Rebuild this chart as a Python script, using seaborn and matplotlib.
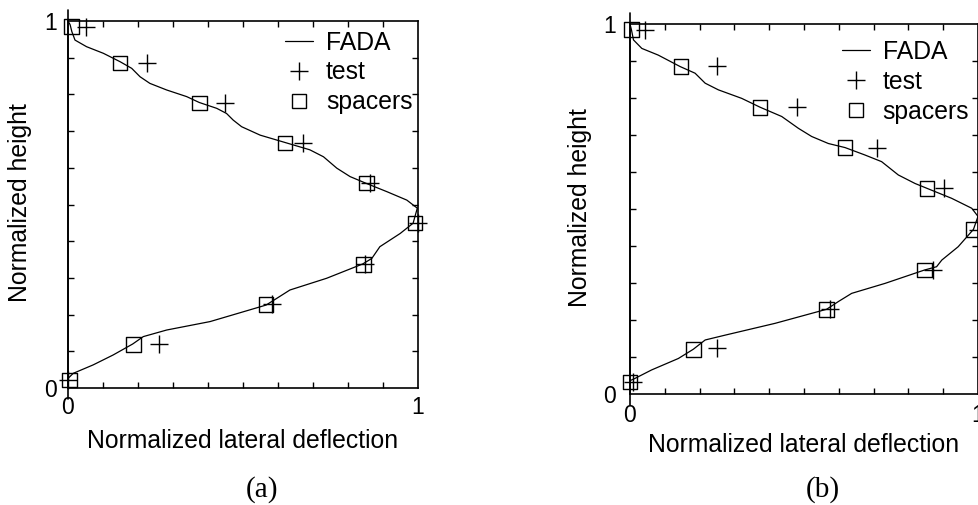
import numpy as np
import pandas as pd
import matplotlib
matplotlib.use("Agg")
import matplotlib.pyplot as plt
import seaborn as sns
from matplotlib.lines import Line2D
from matplotlib.legend_handler import HandlerLine2D

# ---------------- data ----------------
# Panel (a)
fada_a_x = [0.0, 0.006, 0.011, 0.02, 0.053, 0.101, 0.149, 0.182, 0.206, 0.234, 0.282, 0.339,
            0.375, 0.425, 0.453, 0.472, 0.496, 0.549, 0.62, 0.691, 0.730, 0.768, 0.806, 0.851,
            0.911, 0.968, 0.998, 0.986, 0.949, 0.891, 0.868, 0.842, 0.739, 0.634, 0.596,
            0.566, 0.406, 0.282, 0.215, 0.185, 0.129, 0.072, 0.015, 0.0]
fada_a_y = [1.0, 0.99, 0.971, 0.948, 0.930, 0.912, 0.889, 0.871, 0.848, 0.830, 0.812, 0.794,
            0.778, 0.762, 0.748, 0.730, 0.712, 0.689, 0.669, 0.649, 0.630, 0.599, 0.576, 0.558,
            0.535, 0.512, 0.490, 0.449, 0.421, 0.385, 0.353, 0.338, 0.299, 0.267, 0.244,
            0.226, 0.181, 0.158, 0.140, 0.120, 0.090, 0.063, 0.040, 0.026]
test_a_x = [0.051, 0.225, 0.449, 0.672, 0.863, 1.0, 0.849, 0.582, 0.261, 0.0]
test_a_y = [0.985, 0.886, 0.777, 0.668, 0.559, 0.449, 0.337, 0.228, 0.119, 0.022]
spacer_a_x = [0.01, 0.149, 0.375, 0.62, 0.853, 0.991, 0.844, 0.566, 0.187, 0.004]
spacer_a_y = [0.985, 0.886, 0.777, 0.668, 0.559, 0.450, 0.337, 0.228, 0.119, 0.022]

# Panel (b)
fada_b_x = [0.0, 0.004, 0.01, 0.034, 0.081, 0.144, 0.187, 0.216, 0.254, 0.321, 0.374, 0.436,
            0.484, 0.522, 0.570, 0.618, 0.675, 0.723, 0.771, 0.819, 0.853, 0.924, 0.982,
            1.0, 0.987, 0.943, 0.896, 0.881, 0.846, 0.733, 0.637, 0.599, 0.565, 0.417,
            0.273, 0.216, 0.182, 0.139, 0.062, 0.014, 0.0]
fada_b_y = [1.0, 0.985, 0.957, 0.934, 0.916, 0.885, 0.867, 0.840, 0.822, 0.799, 0.775, 0.750,
            0.718, 0.696, 0.677, 0.666, 0.646, 0.628, 0.592, 0.569, 0.556, 0.529, 0.502,
            0.480, 0.445, 0.398, 0.362, 0.344, 0.335, 0.299, 0.272, 0.250, 0.229, 0.191,
            0.159, 0.146, 0.121, 0.096, 0.065, 0.042, 0.036]
test_b_x = [0.043, 0.249, 0.479, 0.709, 0.901, 1.0, 0.872, 0.575, 0.249, 0.01]
test_b_y = [0.985, 0.886, 0.776, 0.665, 0.557, 0.444, 0.336, 0.230, 0.124, 0.032]
spacer_b_x = [0.005, 0.146, 0.374, 0.618, 0.853, 0.987, 0.846, 0.565, 0.182, 0.0]
spacer_b_y = [0.985, 0.885, 0.775, 0.666, 0.556, 0.445, 0.335, 0.229, 0.121, 0.032]

panel_labels = ["(a)", "(b)"]
xlabel = "Normalized lateral deflection"
ylabel = "Normalized height"
legend_labels = ["FADA", "test", "spacers"]

# ---------------- style ----------------
sns.set_style("white")
plt.rcParams["font.family"] = ["Liberation Sans", "DejaVu Sans"]
plt.rcParams["text.color"] = "black"
plt.rcParams["axes.labelcolor"] = "black"
plt.rcParams["xtick.color"] = "black"
plt.rcParams["ytick.color"] = "black"

fig = plt.figure(figsize=(9.79, 5.05), dpi=100)

axes_pos = [
    [68 / 979, (505 - 388) / 505, 350 / 979, 367 / 505],
    [630 / 979, (505 - 394) / 505, 348 / 979, 370 / 505],
]


class RightMarkerHandler(HandlerLine2D):
    def get_xdata(self, legend, xdescent, ydescent, width, height, fontsize):
        xdata = [-xdescent, -xdescent + width]
        xdata_marker = [-xdescent + width]
        return xdata, xdata_marker


panels = [
    (fada_a_x, fada_a_y, test_a_x, test_a_y, spacer_a_x, spacer_a_y),
    (fada_b_x, fada_b_y, test_b_x, test_b_y, spacer_b_x, spacer_b_y),
]

LBL = 17.8
TCK = 16.5
ylabel_coords = [(-0.103, 0.505), (-0.109, 0.504)]
xlabel_coords = [(0.5, -0.112), (0.5, -0.106)]
legend_anchor = [(0.62, 0.974), (0.609, 0.957)]
ytick_pad = [8, 10]
xtick_pad = [6, 7]
label_pos = [(262 / 979, 1 - 490 / 505), (823 / 979, 1 - 490 / 505)]

for i, (fx, fy, tx, ty, sx, sy) in enumerate(panels):
    ax = fig.add_axes(axes_pos[i])
    df_line = pd.DataFrame({"x": fx, "y": fy})
    df_test = pd.DataFrame({"x": tx, "y": ty})
    df_sp = pd.DataFrame({"x": sx, "y": sy})

    sns.lineplot(data=df_line, x="x", y="y", sort=False, estimator=None,
                 color="black", linewidth=0.9, ax=ax, legend=False)
    sns.scatterplot(data=df_sp, x="x", y="y", marker="s", s=110,
                    facecolor="none", edgecolor="black", linewidth=1.0, ax=ax,
                    legend=False, clip_on=False, zorder=3)
    sns.scatterplot(data=df_test, x="x", y="y", marker="+", s=170,
                    color="black", linewidth=1.0, ax=ax, legend=False,
                    clip_on=False, zorder=3)

    ax.axvline(0, ymin=-0.03, ymax=1.03, color="black", linewidth=1.2, clip_on=False)

    ax.set_xlim(0, 1)
    ax.set_ylim(0, 1)
    ax.set_xticks([0, 1])
    ax.set_yticks([0, 1])
    ax.set_xticklabels(["0", "1"])
    ax.set_yticklabels(["0", "1"])
    ax.set_xticks(np.arange(1, 10) / 10, minor=True)
    ax.set_yticks(np.arange(1, 10) / 10, minor=True)
    ax.tick_params(which="both", direction="in", top=True, right=True,
                   bottom=True, left=True, color="black", labelcolor="black", width=1.0)
    ax.tick_params(which="major", length=0, labelsize=TCK)
    ax.tick_params(which="minor", length=4)
    ax.tick_params(axis="y", which="major", pad=ytick_pad[i])
    ax.tick_params(axis="x", which="major", pad=xtick_pad[i])

    for sp in ax.spines.values():
        sp.set_visible(True)
        sp.set_color("black")
        sp.set_linewidth(1.2)

    ax.set_xlabel(xlabel, fontsize=LBL, color="black")
    ax.set_ylabel(ylabel, fontsize=LBL, color="black")
    ax.xaxis.set_label_coords(*xlabel_coords[i])
    ax.yaxis.set_label_coords(*ylabel_coords[i])

    handles = [
        Line2D([], [], color="black", linewidth=0.9),
        Line2D([], [], color="black", marker="+", linestyle="none", markersize=13,
               markeredgewidth=1.0),
        Line2D([], [], color="black", marker="s", linestyle="none", markersize=10,
               markerfacecolor="none", markeredgewidth=1.0),
    ]
    ax.legend(handles, legend_labels, loc="upper left",
              bbox_to_anchor=legend_anchor[i], frameon=False, fontsize=LBL,
              handlelength=1.15, handletextpad=0.5, labelspacing=0.24,
              borderpad=0, borderaxespad=0, labelcolor="black",
              handler_map={Line2D: RightMarkerHandler()})

    fig.text(label_pos[i][0], label_pos[i][1], panel_labels[i], ha="center",
             va="center", fontsize=21, color="black",
             family=["Liberation Serif", "DejaVu Serif"])

fig.savefig("out.png", dpi=100)
